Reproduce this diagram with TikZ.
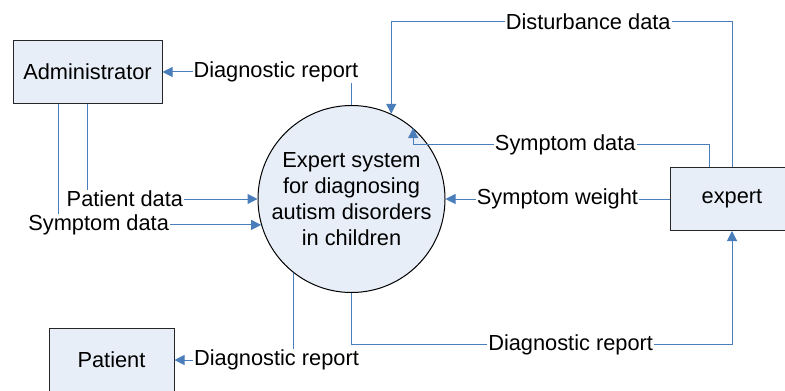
\documentclass[tikz,border=0pt]{standalone}
\usepackage{fontspec}
\setmainfont{Liberation Sans}
\usepackage{tikz}
\usetikzlibrary{arrows.meta}
\definecolor{flowblue}{RGB}{74,126,187}
\definecolor{boxfill}{RGB}{232,238,248}

\begin{document}
\begin{tikzpicture}[x=0.5pt,y=-0.5pt,>={Triangle[length=5pt,width=5pt]},
  font=\fontsize{10.9}{13}\selectfont,
  entity/.style={draw=black!85,fill=boxfill,line width=0.5pt,inner sep=0pt},
  process/.style={circle,draw=black,fill=boxfill,line width=0.5pt,minimum size=93.5pt,inner sep=0pt,align=center},
  flow/.style={->,draw=flowblue,line width=0.5pt},
  lbl/.style={fill=white,inner sep=0.5pt,text=black}]
\useasboundingbox (0,0) rectangle (785,390);

\node[process] (sys) at (351.5,199) {Expert system\\for diagnosing\\autism disorders\\in children};
\node[entity,minimum width=74.5pt,minimum height=31pt] (admin) at (87.5,72) {Administrator};
\node[entity,minimum width=62.5pt,minimum height=32pt] (patient) at (111.5,360) {Patient};
\node[entity,minimum width=62pt,minimum height=31.5pt] (expert) at (732,199) {expert};

\path[flow] (sys.north) |- node[lbl,pos=0.70] {Diagnostic report} (admin.east);
\path[flow] (admin.south) |- node[lbl,pos=0.61] {Patient data} (sys.west);
\path[flow] ([xshift=-14.75pt]admin.south) |- node[lbl,pos=0.6] {Symptom data} (sys.196.8);
\path[flow] (expert.north) -- ++(0,-145.5) -| node[lbl,pos=0.211] {Disturbance data} (sys.65);
\path[flow] ([xshift=-11.5pt]expert.north) -- ++(0,-22.5) -| node[lbl,pos=0.243] {Symptom data} (sys.49);
\path[flow] (expert.west) -- node[lbl] {Symptom weight} (sys.east);
\path[flow] (sys.south) -- ++(0,51.5) -| node[lbl,pos=0.288] {Diagnostic report} (expert.south);
\path[flow] (sys.232.8) |- node[lbl,pos=0.572] {Diagnostic report} (patient.east);
\end{tikzpicture}
\end{document}
